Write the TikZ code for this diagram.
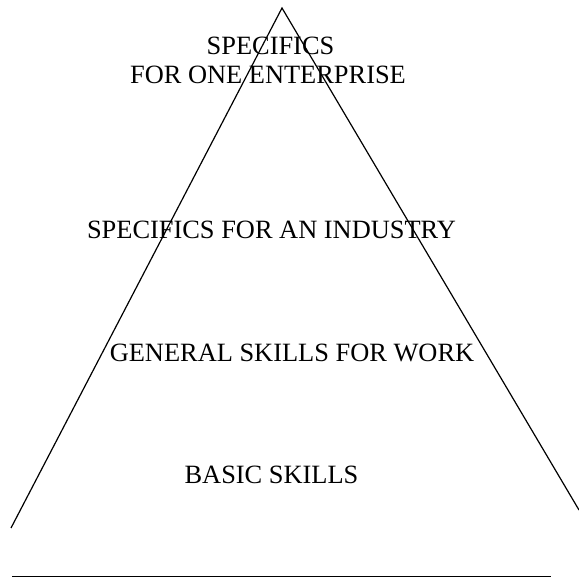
\documentclass[tikz,border=0pt]{standalone}
\usepackage{fontspec}
\setmainfont{Liberation Serif}
\begin{document}
\begin{tikzpicture}[x=1pt,y=-1pt,
    level/.style={font=\fontsize{26.4}{29}\selectfont,inner sep=0pt,anchor=base}]
    \useasboundingbox (0,0) rectangle (579,577);
    % pyramid outline, right leg runs off the edge
    \coordinate (apex) at (282,8);
    \coordinate (left) at (11,528);
    \coordinate (right) at (579,510);
    \draw[line width=1.2pt] (left) -- (apex) -- (right);
    % ground rule
    \coordinate (g1) at (12,576);
    \coordinate (g2) at (551,576);
    \draw[line width=0.8pt] (g1) -- (g2);
    % levels
    \node[level] (enterprise1) at (270.5,55) {SPECIFICS};
    \node[level] (enterprise2) at (268,84) {FOR ONE ENTERPRISE};
    \node[level] (industry) at (271.5,239) {SPECIFICS FOR AN INDUSTRY};
    \node[level] (work) at (292,362) {GENERAL SKILLS FOR WORK};
    \node[level] (basic) at (271.5,484) {BASIC SKILLS};
\end{tikzpicture}
\end{document}
